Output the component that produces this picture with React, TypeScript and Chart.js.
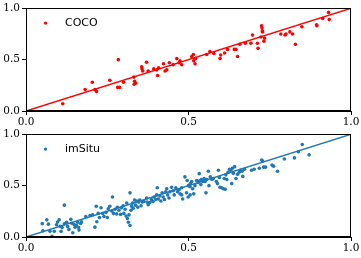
import React, { useEffect, useRef } from "react";
import { Chart, registerables } from "chart.js";

Chart.register(...registerables);

const tickValues = [0, 0.5, 1];
const tickLabels = ["0.0", "0.5", "1.0"];

const cocoLabel = "COCO";
const cocoX = [
  0.113, 0.182, 0.204, 0.212, 0.217, 0.258, 0.284, 0.282, 0.288, 0.3, 0.332, 0.334, 0.333, 0.337,
  0.356, 0.357, 0.359, 0.371, 0.376, 0.393, 0.402, 0.405, 0.408, 0.423, 0.428, 0.433, 0.441, 0.453,
  0.464, 0.471, 0.474, 0.479, 0.51, 0.515, 0.516, 0.52, 0.522, 0.556, 0.566, 0.578, 0.597, 0.599,
  0.611, 0.62, 0.641, 0.646, 0.651, 0.658, 0.675, 0.692, 0.697, 0.712, 0.714, 0.723, 0.725, 0.726,
  0.727, 0.728, 0.732, 0.734, 0.784, 0.797, 0.8, 0.812, 0.82, 0.829, 0.849, 0.894, 0.895, 0.913,
  0.931, 0.933,
];
const cocoY = [
  0.07, 0.21, 0.28, 0.21, 0.19, 0.3, 0.5, 0.23, 0.23, 0.28, 0.33, 0.29, 0.26, 0.27,
  0.43, 0.41, 0.39, 0.475, 0.39, 0.41, 0.4, 0.345, 0.42, 0.46, 0.39, 0.4, 0.47, 0.45,
  0.51, 0.47, 0.49, 0.45, 0.53, 0.55, 0.49, 0.46, 0.51, 0.55, 0.58, 0.56, 0.51, 0.545,
  0.565, 0.6, 0.6, 0.6, 0.53, 0.65, 0.66, 0.66, 0.74, 0.66, 0.61, 0.72, 0.83, 0.81,
  0.78, 0.77, 0.68, 0.71, 0.75, 0.74, 0.75, 0.77, 0.75, 0.65, 0.82, 0.84, 0.83, 0.9,
  0.96, 0.89,
];

const imsituLabel = "imSitu";
const imsituX = [
  0.05, 0.064, 0.069, 0.052, 0.074, 0.08, 0.087, 0.094, 0.097, 0.102, 0.105, 0.108, 0.111, 0.118,
  0.118, 0.125, 0.128, 0.132, 0.138, 0.141, 0.144, 0.148, 0.151, 0.155, 0.159, 0.162, 0.163, 0.168,
  0.171, 0.184, 0.197, 0.205, 0.212, 0.216, 0.218, 0.222, 0.226, 0.231, 0.236, 0.24, 0.246, 0.25,
  0.253, 0.258, 0.264, 0.266, 0.269, 0.274, 0.279, 0.281, 0.286, 0.291, 0.294, 0.299, 0.301, 0.305,
  0.308, 0.31, 0.312, 0.315, 0.317, 0.32, 0.32, 0.323, 0.325, 0.328, 0.33, 0.334, 0.337, 0.341,
  0.344, 0.347, 0.35, 0.354, 0.358, 0.363, 0.371, 0.373, 0.376, 0.381, 0.386, 0.391, 0.394, 0.399,
  0.404, 0.402, 0.407, 0.412, 0.415, 0.419, 0.422, 0.426, 0.43, 0.433, 0.436, 0.44, 0.443, 0.448,
  0.453, 0.456, 0.461, 0.466, 0.471, 0.474, 0.479, 0.479, 0.482, 0.489, 0.494, 0.496, 0.5, 0.499,
  0.505, 0.505, 0.506, 0.51, 0.513, 0.516, 0.52, 0.525, 0.53, 0.533, 0.535, 0.538, 0.54, 0.544,
  0.548, 0.551, 0.554, 0.556, 0.561, 0.563, 0.567, 0.572, 0.576, 0.586, 0.589, 0.592, 0.595, 0.597,
  0.602, 0.607, 0.613, 0.61, 0.615, 0.618, 0.622, 0.626, 0.63, 0.635, 0.633, 0.638, 0.642, 0.646,
  0.651, 0.656, 0.66, 0.665, 0.667, 0.672, 0.694, 0.702, 0.718, 0.725, 0.728, 0.731, 0.737, 0.757,
  0.762, 0.774, 0.795, 0.826, 0.838, 0.85, 0.871,
];
const imsituY = [
  0.13, 0.167, 0.125, 0.06, 0.055, 0.007, 0.055, 0.12, 0.145, 0.167, 0.105, 0.055, 0.093, 0.31,
  0.128, 0.143, 0.103, 0.074, 0.172, 0.134, 0.042, 0.122, 0.096, 0.115, 0.144, 0.093, 0.067, 0.131,
  0.147, 0.2, 0.21, 0.217, 0.096, 0.3, 0.148, 0.23, 0.19, 0.285, 0.23, 0.2, 0.24, 0.19,
  0.275, 0.3, 0.253, 0.39, 0.23, 0.27, 0.225, 0.29, 0.26, 0.22, 0.285, 0.305, 0.23, 0.27,
  0.205, 0.33, 0.18, 0.144, 0.215, 0.112, 0.43, 0.26, 0.3, 0.33, 0.28, 0.36, 0.31, 0.35,
  0.29, 0.34, 0.36, 0.305, 0.34, 0.345, 0.38, 0.34, 0.315, 0.335, 0.365, 0.345, 0.39, 0.365,
  0.48, 0.41, 0.37, 0.4, 0.35, 0.43, 0.39, 0.365, 0.44, 0.47, 0.41, 0.38, 0.44, 0.485,
  0.45, 0.41, 0.48, 0.44, 0.46, 0.42, 0.48, 0.41, 0.37, 0.585, 0.43, 0.55, 0.5, 0.39,
  0.41, 0.49, 0.52, 0.54, 0.47, 0.42, 0.5, 0.55, 0.53, 0.617, 0.55, 0.51, 0.56, 0.54,
  0.57, 0.54, 0.43, 0.56, 0.64, 0.5, 0.585, 0.56, 0.57, 0.54, 0.52, 0.65, 0.58, 0.485,
  0.48, 0.47, 0.465, 0.57, 0.605, 0.56, 0.63, 0.66, 0.65, 0.67, 0.52, 0.62, 0.685, 0.57,
  0.61, 0.63, 0.65, 0.64, 0.59, 0.66, 0.65, 0.66, 0.67, 0.75, 0.74, 0.68, 0.68, 0.7,
  0.69, 0.64, 0.76, 0.77, 0.83, 0.9, 0.8,
];

const diagX = [0, 1];
const diagY = [0, 1];

const FONT = "DejaVu Serif";
const LEGEND_FONT = "DejaVu Sans";

const framePlugin = {
  id: "frame",
  afterDatasetsDraw(chart: any) {
    const { ctx, chartArea } = chart;
    const l = Math.round(chartArea.left) + 0.5;
    const t = Math.round(chartArea.top) + 0.5;
    const r = Math.round(chartArea.right) - 0.5;
    const b = Math.round(chartArea.bottom) - 0.5;
    ctx.save();
    ctx.strokeStyle = "#000";
    ctx.lineWidth = 1;
    ctx.strokeRect(l, t, r - l, b - t);
    ctx.restore();
  },
};

const legendPlugin = {
  id: "insideLegend",
  afterDatasetsDraw(chart: any) {
    const { ctx, chartArea } = chart;
    const ds = chart.data.datasets[0];
    const cx = chartArea.left + 19.5;
    const cy = chartArea.top + 14.8;
    ctx.save();
    ctx.fillStyle = ds.backgroundColor;
    ctx.beginPath();
    ctx.arc(cx, cy, 1.7, 0, Math.PI * 2);
    ctx.fill();
    ctx.fillStyle = "#000";
    ctx.font = `11px "${LEGEND_FONT}"`;
    ctx.textBaseline = "middle";
    ctx.textAlign = "left";
    ctx.fillText(ds.label, chartArea.left + 39, cy);
    ctx.restore();
  },
};

function makeConfig(label: string, xs: number[], ys: number[], color: string, xAxisHeight: number): any {
  const tickFont = { family: FONT, size: 10.5 };
  return {
    type: "scatter",
    data: {
      datasets: [
        {
          type: "scatter",
          label,
          data: xs.map((x, i) => ({ x, y: ys[i] })),
          backgroundColor: color,
          borderColor: color,
          pointRadius: 1.8,
          pointBorderWidth: 0,
          order: 2,
        },
        {
          type: "line",
          label: "diagonal",
          data: diagX.map((x, i) => ({ x, y: diagY[i] })),
          borderColor: color,
          borderWidth: 1.5,
          pointRadius: 0,
          fill: false,
          order: 1,
        },
      ],
    },
    options: {
      animation: false,
      responsive: false,
      maintainAspectRatio: false,
      layout: { padding: { top: 6.5, right: 10, left: 0, bottom: 0 } },
      plugins: { legend: { display: false }, tooltip: { enabled: false } },
      scales: {
        x: {
          type: "linear",
          min: 0,
          max: 1,
          afterBuildTicks: (s: any) => {
            s.ticks = tickValues.map((v) => ({ value: v }));
          },
          ticks: {
            callback: (_v: any, i: number) => tickLabels[i],
            font: tickFont,
            color: "#000",
            padding: 1,
            maxRotation: 0,
            autoSkip: false,
          },
          grid: { drawOnChartArea: false, drawTicks: true, tickLength: 4, color: "#000", tickWidth: 1 },
          border: { display: true, color: "#000", width: 1 },
          afterFit: (s: any) => {
            s.height = xAxisHeight;
          },
        },
        y: {
          type: "linear",
          min: 0,
          max: 1,
          afterBuildTicks: (s: any) => {
            s.ticks = tickValues.map((v) => ({ value: v }));
          },
          ticks: {
            callback: (_v: any, i: number) => tickLabels[i],
            font: tickFont,
            color: "#000",
            padding: 2,
            autoSkip: false,
          },
          grid: { drawOnChartArea: false, drawTicks: true, tickLength: 4, color: "#000", tickWidth: 1 },
          border: { display: true, color: "#000", width: 1 },
          afterFit: (s: any) => {
            s.width = 26;
          },
        },
      },
    },
    plugins: [framePlugin, legendPlugin],
  };
}

function Panel({ label, xs, ys, color, top, height, xAxisHeight }: any) {
  const ref = useRef<HTMLCanvasElement | null>(null);
  useEffect(() => {
    if (!ref.current) return;
    const chart = new Chart(ref.current, makeConfig(label, xs, ys, color, xAxisHeight));
    return () => chart.destroy();
  }, []);
  return (
    <canvas
      ref={ref}
      width={361}
      height={height}
      style={{ position: "absolute", left: 0, top, width: 361, height }}
    />
  );
}

export default function App() {
  return (
    <div style={{ position: "fixed", left: 0, top: 0, width: 361, height: 258, background: "#fff" }}>
      <Panel label={cocoLabel} xs={cocoX} ys={cocoY} color="#ff0000" top={0} height={126} xAxisHeight={15} />
      <Panel label={imsituLabel} xs={imsituX} ys={imsituY} color="#1f77b4" top={126} height={132} xAxisHeight={21} />
    </div>
  );
}
